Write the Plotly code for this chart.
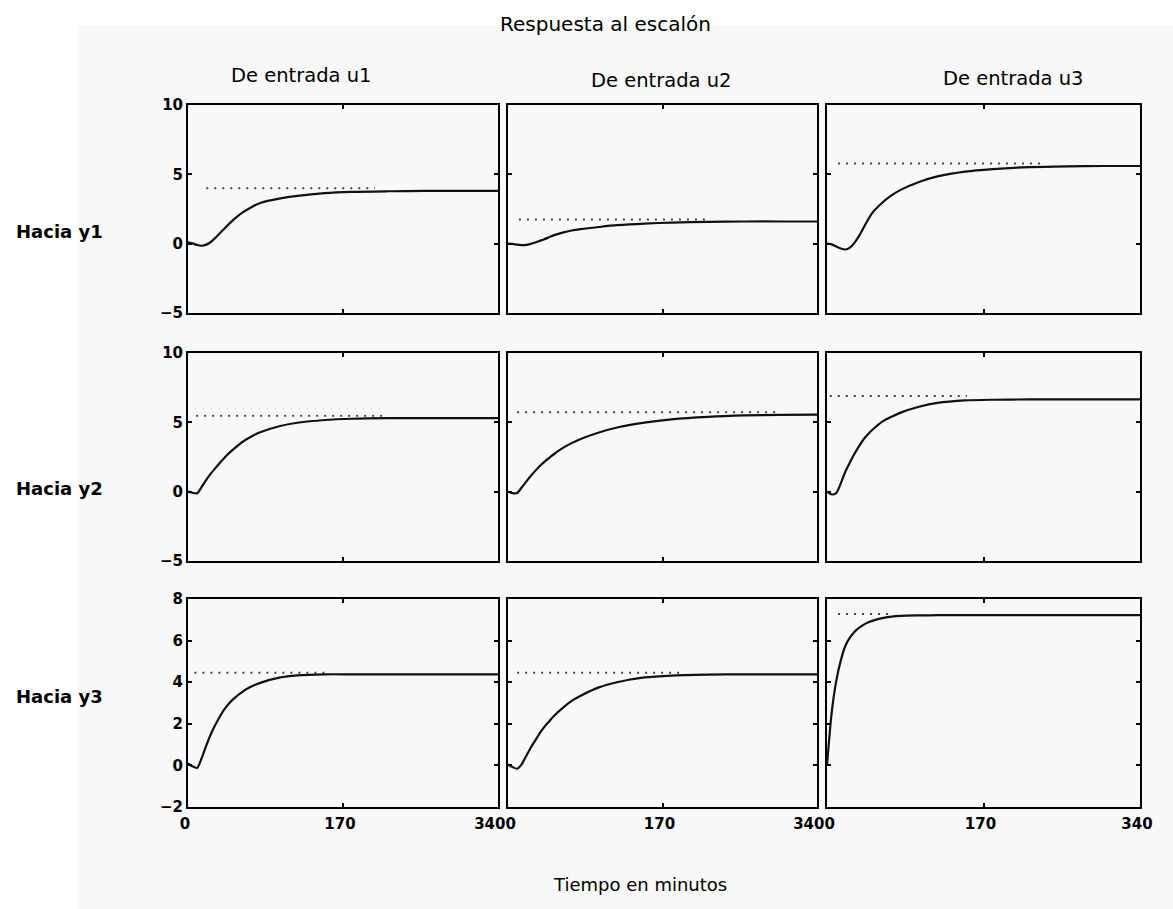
import plotly.graph_objects as go

W, H = 1173, 909

# ---------------- data ----------------
T = [0, 5, 10, 15, 20, 25, 30, 35, 40, 45, 50, 60, 70, 80, 100, 120, 150, 180, 220, 260, 300, 340]

y1_u1 = [0.1, 0.02, -0.1, -0.15, -0.07, 0.12, 0.42, 0.75, 1.1, 1.43, 1.73, 2.25, 2.65, 2.95, 3.25, 3.45, 3.65, 3.74, 3.78, 3.8, 3.8, 3.8]
y1_u2 = [0.0, -0.02, -0.07, -0.1, -0.09, -0.02, 0.08, 0.2, 0.32, 0.46, 0.6, 0.8, 0.95, 1.05, 1.2, 1.33, 1.45, 1.52, 1.57, 1.6, 1.6, 1.6]
y1_u3 = [0.0, -0.05, -0.2, -0.35, -0.42, -0.28, 0.08, 0.58, 1.18, 1.78, 2.28, 2.95, 3.48, 3.88, 4.45, 4.85, 5.2, 5.38, 5.52, 5.58, 5.6, 5.6]

y2_u1 = [0.0, -0.08, -0.12, 0.35, 0.85, 1.3, 1.7, 2.08, 2.45, 2.78, 3.07, 3.6, 4.0, 4.3, 4.72, 4.97, 5.17, 5.26, 5.3, 5.3, 5.3, 5.3]
y2_u2 = [0.0, -0.1, -0.1, 0.3, 0.72, 1.13, 1.5, 1.85, 2.15, 2.42, 2.68, 3.14, 3.5, 3.8, 4.27, 4.63, 4.98, 5.22, 5.4, 5.5, 5.54, 5.55]
y2_u3 = [0.0, -0.2, -0.1, 0.6, 1.45, 2.12, 2.75, 3.3, 3.8, 4.18, 4.5, 5.05, 5.4, 5.7, 6.12, 6.4, 6.58, 6.63, 6.65, 6.65, 6.65, 6.65]

y3_u1 = [0.1, -0.05, -0.12, 0.35, 0.95, 1.5, 1.95, 2.35, 2.7, 2.98, 3.2, 3.55, 3.8, 3.98, 4.22, 4.33, 4.38, 4.38, 4.38, 4.38, 4.38, 4.38]
y3_u2 = [0.05, -0.08, -0.16, 0.05, 0.45, 0.85, 1.2, 1.55, 1.85, 2.1, 2.35, 2.75, 3.1, 3.35, 3.75, 4.0, 4.23, 4.32, 4.36, 4.38, 4.38, 4.38]
y3_u3 = [0.0, 2.5, 4.05, 5.05, 5.75, 6.15, 6.42, 6.62, 6.77, 6.88, 6.96, 7.08, 7.15, 7.19, 7.21, 7.22, 7.22, 7.22, 7.22, 7.22, 7.22, 7.22]

# steady-state (dotted) reference levels and their time span
ref_level_y1 = [4.0, 1.75, 5.78]
ref_level_y2 = [5.48, 5.73, 6.9]
ref_level_y3 = [4.45, 4.45, 7.28]
ref_t_start_y1 = [20, 12, 12]
ref_t_end_y1 = [205, 221, 237]
ref_t_start_y2 = [9, 10, 3]
ref_t_end_y2 = [216, 300, 152]
ref_t_start_y3 = [7, 10, 12]
ref_t_end_y3 = [154, 194, 70]

col_titles = ["De entrada u1", "De entrada u2", "De entrada u3"]
row_titles = ["Hacia y1", "Hacia y2", "Hacia y3"]
x_ticks = [0, 170, 340]
# as printed: the "340" of one panel runs into the "0" of the next ("3400")
x_tick_text_u1 = ["0", "170", "3400"]
x_tick_text_u2 = ["", "170", "3400"]
x_tick_text_u3 = ["", "170", "340"]
y_ticks_top = [-5, 0, 5, 10]
y_ticks_bottom = [-2, 0, 2, 4, 6, 8]

curves = [[y1_u1, y1_u2, y1_u3], [y2_u1, y2_u2, y2_u3], [y3_u1, y3_u2, y3_u3]]
ref_levels = [ref_level_y1, ref_level_y2, ref_level_y3]
ref_starts = [ref_t_start_y1, ref_t_start_y2, ref_t_start_y3]
ref_ends = [ref_t_end_y1, ref_t_end_y2, ref_t_end_y3]
x_tick_texts = [x_tick_text_u1, x_tick_text_u2, x_tick_text_u3]

# ---------------- layout geometry (pixels) ----------------
col_px = [(188, 498), (508, 817), (827, 1140)]
row_px = [(105, 313), (353, 561), (599, 807)]

FONT = "DejaVu Sans"

fig = go.Figure()
layout = dict(
    width=W, height=H,
    margin=dict(l=0, r=0, t=0, b=0, autoexpand=False),
    paper_bgcolor="white",
    plot_bgcolor="#fbfbfb",
    showlegend=False,
    font=dict(family=FONT, color="black"),
)

for r in range(3):
    for c in range(3):
        k = r * 3 + c + 1
        xa = "x" if k == 1 else f"x{k}"
        ya = "y" if k == 1 else f"y{k}"
        fig.add_trace(go.Scatter(
            x=[ref_starts[r][c], ref_ends[r][c]],
            y=[ref_levels[r][c], ref_levels[r][c]],
            mode="lines", xaxis=xa, yaxis=ya,
            line=dict(color="#444444", width=2, dash="2px,6px"),
            hoverinfo="skip"))
        fig.add_trace(go.Scatter(
            x=T, y=curves[r][c], mode="lines", xaxis=xa, yaxis=ya,
            line=dict(color="#111111", width=2.2, shape="spline", smoothing=0.7)))

        x0, x1 = col_px[c]
        y0, y1 = row_px[r]
        xkey = "xaxis" if k == 1 else f"xaxis{k}"
        ykey = "yaxis" if k == 1 else f"yaxis{k}"
        layout[xkey] = dict(
            domain=[x0 / W, x1 / W], anchor=ya, automargin=False,
            range=[0, 340], tickvals=x_ticks, ticktext=x_tick_texts[c],
            showticklabels=(r == 2), ticklabelshift=-3, ticklabelstandoff=2,
            ticks="inside", ticklen=4, tickcolor="black", tickwidth=1.5,
            showline=True, linecolor="black", linewidth=2, mirror="ticks",
            showgrid=False, zeroline=False,
            tickfont=dict(family=FONT, size=15, weight="bold"),
        )
        if r < 2:
            yr, yt = [-5, 10], y_ticks_top
        else:
            yr, yt = [-2, 8], y_ticks_bottom
        layout[ykey] = dict(
            domain=[1 - y1 / H, 1 - y0 / H], anchor=xa, automargin=False,
            range=yr, tickvals=yt,
            showticklabels=(c == 0),
            ticks="inside", ticklen=4, tickcolor="black", tickwidth=1.5,
            showline=True, linecolor="black", linewidth=2, mirror="ticks",
            showgrid=False, zeroline=False,
            tickfont=dict(family=FONT, size=15, weight="bold"),
        )

annotations = []
def ann(text, px, py, size, xanchor="center", weight="normal"):
    annotations.append(dict(
        text=text, x=px / W, y=1 - py / H, xref="paper", yref="paper",
        xanchor=xanchor, yanchor="middle", showarrow=False,
        font=dict(family=FONT, size=size, color="black", weight=weight)))

ann("Respuesta al escalón", 605, 24, 20)
title_pos = [(301, 75), (661, 81), (1013, 78)]
for t, (px, py) in zip(col_titles, title_pos):
    ann(t, px, py, 19.5)
row_pos = [231, 488, 696]
for t, py in zip(row_titles, row_pos):
    ann(t, 14, py, 18, xanchor="left", weight="bold")
ann("Tiempo en minutos", 640, 884, 18)

layout["annotations"] = annotations
layout["shapes"] = [dict(type="rect", xref="paper", yref="paper",
                         x0=78 / W, x1=1, y0=0, y1=1 - 25 / H,
                         fillcolor="#f8f8f8", line=dict(width=0), layer="below")]
fig.update_layout(**layout)

fig.write_html("out.html", config={"displayModeBar": False},
               post_script="document.body.style.margin='0px';document.body.style.overflow='hidden';")
